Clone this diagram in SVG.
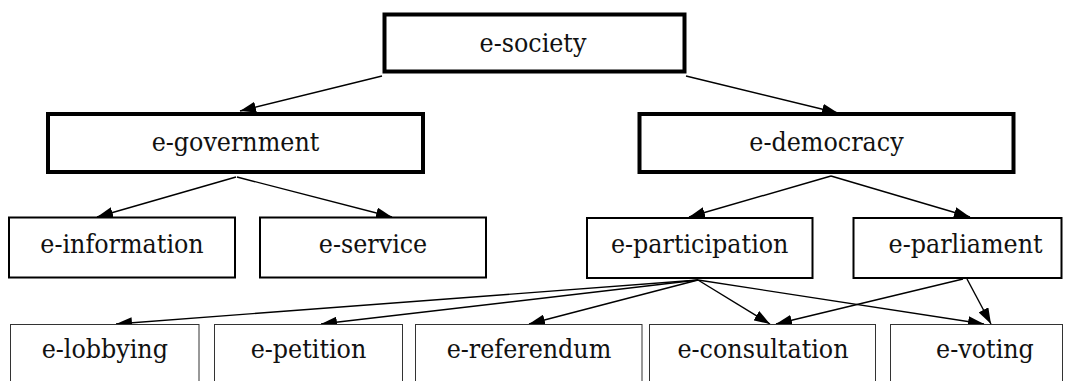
<svg xmlns="http://www.w3.org/2000/svg" width="1071" height="381" viewBox="0 0 1071 381">
<style>
  .n rect{fill:#fff;stroke:#000}
  .l1 rect{stroke-width:4}
  .l2 rect{stroke-width:2}
  .l3 rect{stroke-width:1;stroke:#333}
  .n text{font-family:"DejaVu Serif Condensed","DejaVu Serif",serif;font-stretch:condensed;font-size:26.5px;fill:#111;text-anchor:middle}
  .e path{fill:none;stroke:#000;stroke-width:1.4;marker-end:url(#ah)}
</style>
<defs>
  <marker id="ah" markerUnits="userSpaceOnUse" viewBox="0 0 16 11" markerWidth="16" markerHeight="11" refX="16" refY="5.5" orient="auto">
    <path d="M0,0 L16,5.5 L0,11 z" fill="#000"/>
  </marker>
</defs>
<rect width="1071" height="381" fill="#fff"/>
<g id="edges" class="e">
  <path d="M382,76 L240,111"/>
  <path d="M686,76 L838,113"/>
  <path d="M236,177 L97,217"/>
  <path d="M237,177 L392,217"/>
  <path d="M831,176 L689,217"/>
  <path d="M831,176 L970,217"/>
  <path d="M698,280 L116,324"/>
  <path d="M698,280 L321,324"/>
  <path d="M698,280 L529,324"/>
  <path d="M698,280 L770,324"/>
  <path d="M698,280 L984,324"/>
  <path d="M963,279 L776,324"/>
  <path d="M967,279 L991,324"/>
</g>
<g id="e-society" class="n l1"><rect x="384.5" y="14.5" width="300" height="57"/><text x="533" y="52">e-society</text></g>
<g id="e-government" class="n l1"><rect x="48" y="114" width="375" height="58"/><text x="235.5" y="151">e-government</text></g>
<g id="e-democracy" class="n l1"><rect x="639.5" y="114" width="374" height="58"/><text x="826.5" y="151">e-democracy</text></g>
<g id="e-information" class="n l2"><rect x="9" y="217.5" width="226" height="60"/><text x="122" y="253">e-information</text></g>
<g id="e-service" class="n l2"><rect x="260" y="217.5" width="226" height="60"/><text x="373" y="253">e-service</text></g>
<g id="e-participation" class="n l2"><rect x="587" y="218" width="225.5" height="60"/><text x="699.7" y="253">e-participation</text></g>
<g id="e-parliament" class="n l2"><rect x="853.5" y="218" width="208" height="60"/><text x="965.6" y="253">e-parliament</text></g>
<g id="e-lobbying" class="n l3"><rect x="10.5" y="324.5" width="188.5" height="70"/><text x="104.8" y="358.3">e-lobbying</text></g>
<g id="e-petition" class="n l3"><rect x="214.5" y="324.5" width="188" height="70"/><text x="308.5" y="358.3">e-petition</text></g>
<g id="e-referendum" class="n l3"><rect x="415.5" y="324.5" width="226.5" height="70"/><text x="529" y="358.3">e-referendum</text></g>
<g id="e-consultation" class="n l3"><rect x="649.5" y="324.5" width="226" height="70"/><text x="763" y="358.3">e-consultation</text></g>
<g id="e-voting" class="n l3"><rect x="890.5" y="324.5" width="172" height="70"/><text x="985" y="358.3">e-voting</text></g>
</svg>
